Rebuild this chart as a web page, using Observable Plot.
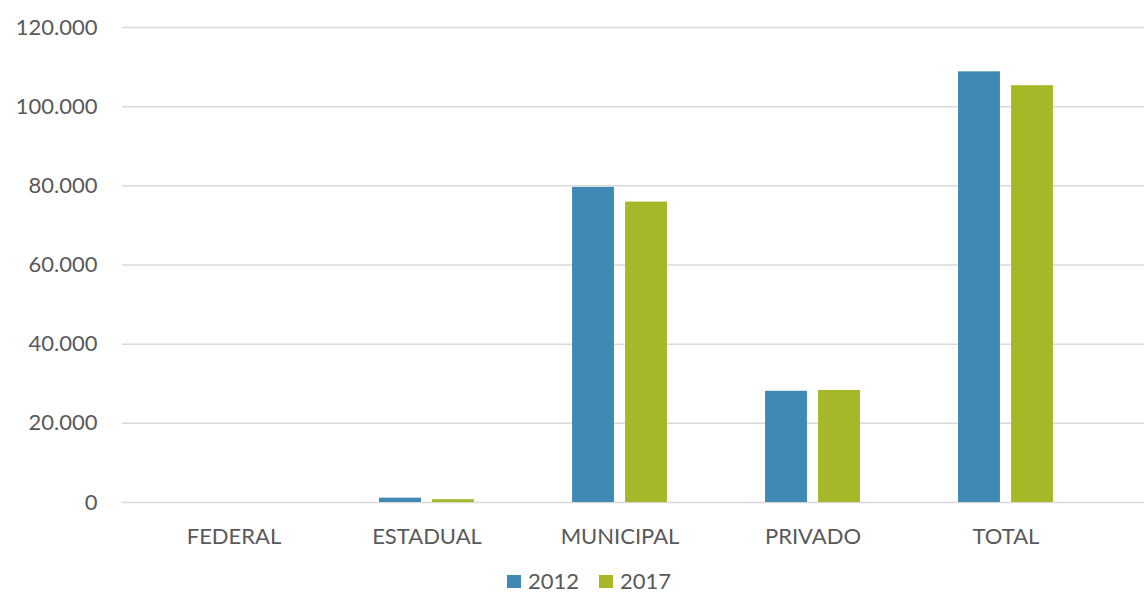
<!DOCTYPE html>
<html>
<head>
<meta charset="utf-8">
<script src="https://cdn.jsdelivr.net/npm/d3@7"></script>
<script src="https://cdn.jsdelivr.net/npm/@observablehq/plot@0.6"></script>
<style>
  html, body { margin: 0; padding: 0; background: #fff; }
  body { width: 1144px; height: 592px; overflow: hidden; position: relative; font-family: Lato, "Open Sans", sans-serif; }
  #legend { position: absolute; left: 507px; top: 570px; display: flex; align-items: center; font-size: 22px; color: #595959; line-height: 22px; }
  #legend .sw { display: inline-block; width: 14px; height: 13px; margin-right: 7px; }
  #legend .item { display: flex; align-items: center; margin-right: 20px; }
</style>
</head>
<body>
<div id="chart"></div>
<div id="legend"></div>
<script>
const categories = ["FEDERAL", "ESTADUAL", "MUNICIPAL", "PRIVADO", "TOTAL"];
const years = ["2012", "2017"];
const values2012 = [0, 1100, 79600, 28100, 108800];
const values2017 = [0, 700, 75900, 28300, 105300];
const yTicks = [0, 20000, 40000, 60000, 80000, 100000, 120000];
const colors = ["#4089B4", "#A6B727"];

const fmt = d3.formatLocale({decimal: ",", thousands: ".", grouping: [3], currency: ["", ""]}).format(",");

const data2012 = categories.map((c, i) => ({category: c, year: "2012", value: values2012[i]}));
const data2017 = categories.map((c, i) => ({category: c, year: "2017", value: values2017[i]}));

const band = 193.1;
const barW = 42;
const inset = (band - barW) / 2;

const chart = Plot.plot({
  width: 1144,
  height: 562,
  marginLeft: 122,
  marginRight: 0,
  marginTop: 27,
  marginBottom: 60,
  style: {fontFamily: "Lato, 'Open Sans', sans-serif", fontSize: "22px", color: "#595959", background: "#fff"},
  x: {domain: categories, range: [137, 137 + band * 5], padding: 0, label: null, tickSize: 0, tickPadding: 26},
  y: {domain: [0, 120000], label: null, ticks: yTicks, tickFormat: fmt, tickSize: 0, tickPadding: 25},
  marks: [
    Plot.ruleY(yTicks, {stroke: "#d9d9d9", strokeWidth: 1.5}),
    Plot.barY(data2012, {x: "category", y: "value", fill: colors[0], dx: -26.5, insetLeft: inset, insetRight: inset}),
    Plot.barY(data2017, {x: "category", y: "value", fill: colors[1], dx: 26.5, insetLeft: inset, insetRight: inset})
  ]
});
document.getElementById("chart").appendChild(chart);

const legend = document.getElementById("legend");
years.forEach((y, i) => {
  const item = document.createElement("div");
  item.className = "item";
  const sw = document.createElement("span");
  sw.className = "sw";
  sw.style.background = colors[i];
  const t = document.createElement("span");
  t.textContent = y;
  item.appendChild(sw);
  item.appendChild(t);
  legend.appendChild(item);
});
</script>
</body>
</html>
